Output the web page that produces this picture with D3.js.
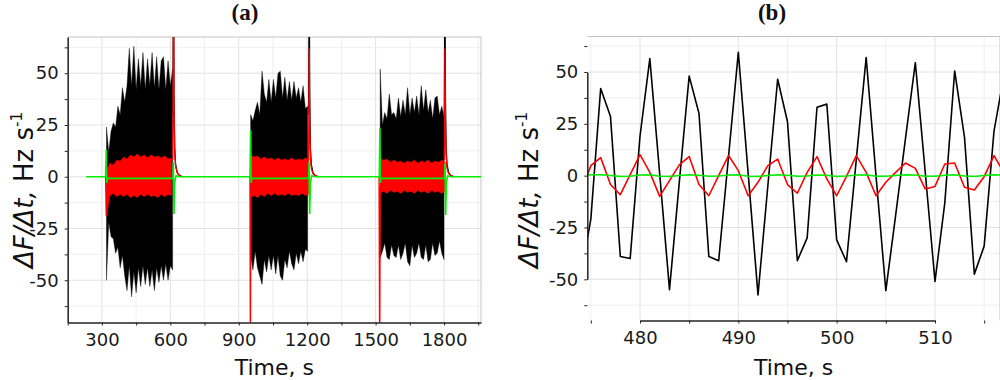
<!DOCTYPE html>
<html>
<head>
<meta charset="utf-8">
<script src="https://cdn.jsdelivr.net/npm/d3@7"></script>
<style>
  body { margin: 0; background: #fff; }
  svg { display: block; background: #fff; }
  .tick text { font-family: "DejaVu Sans", Verdana, sans-serif; font-size: 18px; fill: #1a1a1a; }
  .axis path, .axis line { stroke: #222; }
  .axis path { stroke-width: 1.5; }
  .label { font-family: "DejaVu Sans", Verdana, sans-serif; fill: #111; }
  .title { font-family: "Liberation Serif", "Times New Roman", serif; font-weight: bold; font-size: 23px; fill: #111; }
</style>
</head>
<body>
<div id="chart"></div>
<script>
// ---------- shared value axis ----------
const valueTicks = [-62.5, -50, -37.5, -25, -12.5, 0, 12.5, 25, 37.5, 50, 62.5];
const valueLabels = [-50, -25, 0, 25, 50];

// ---------- panel (a): whole record ----------
const overviewTicks = [150, 300, 450, 600, 750, 900, 1050, 1200, 1350, 1500, 1650, 1800, 1950];
const overviewLabels = [300, 600, 900, 1200, 1500, 1800];

// black signal envelope, sampled every 10 s from the start of each stimulation block
const segStart = [320, 952, 1520];
const segStep = 10;
const blackHi = [
    [24, 12, 22, 26, 24, 34, 30, 43, 36, 44, 62, 44, 63, 42, 57, 44, 60, 42, 57, 44, 60, 43, 58, 42, 56, 58, 42, 56, 44, 52],
    [30, 27, 32, 36, 30, 51, 40, 36, 47, 36, 47, 38, 50, 51, 38, 48, 37, 46, 37, 46, 38, 43, 36, 44, 33, 34],
    [52, 25, 31, 28, 40, 30, 31, 28, 38, 29, 37, 30, 43, 30, 38, 31, 39, 30, 44, 32, 42, 31, 37, 28, 38, 39, 30, 34, 29]
];
const blackLo = [
    [-50, -22, -29, -30, -37, -34, -44, -38, -48, -55, -43, -58, -46, -56, -44, -53, -43, -52, -44, -53, -45, -55, -44, -51, -43, -50, -42, -50, -43, -45],
    [-38, -45, -36, -44, -48, -52, -40, -46, -38, -45, -38, -47, -38, -48, -50, -40, -44, -36, -42, -45, -37, -42, -36, -41, -35, -36],
    [-39, -36, -32, -39, -40, -33, -38, -39, -33, -40, -37, -32, -41, -43, -33, -39, -37, -32, -39, -40, -33, -41, -40, -32, -38, -37, -31, -37, -40]
];

// red signal envelope, sampled every 15 s
const redStep = 15;
const redHi = [
    [3, 6.5, 5.5, 8, 7.5, 9.5, 8.5, 10.5, 9.5, 11, 9.5, 10.5, 9, 10.5, 9.5, 10, 9, 10, 8.5, 9],
    [10.5, 9.5, 10, 8.5, 9.5, 8.5, 9, 8, 9, 8, 8.5, 8, 9, 8, 8.5, 8, 9, 8.5],
    [9, 8, 8.5, 7, 8, 7, 7.5, 6.5, 7.5, 7, 8, 6.5, 7.5, 7, 8, 6.5, 7.5, 7, 8, 7]
];
const redLo = [
    [-19, -9, -8, -9.5, -8.5, -9.5, -8.5, -10, -9, -10, -8.5, -9.5, -8.5, -9.5, -9, -10, -8.5, -9.5, -8.5, -9],
    [-10, -9, -10, -8.5, -9.5, -8, -9, -8, -9, -8.5, -9, -8, -9, -8.5, -9, -8, -9, -8.5],
    [-8, -7, -8, -6.5, -7.5, -7, -8, -6.5, -7.5, -7, -8, -6.5, -7.5, -7, -8, -6.5, -7.5, -7, -8, -7]
];

// switching transients at the edges of each block, [time, value]
const blackEdges = [
    [[611, 30], [614, 95], [616, 40], [619, 14], [623, 6], [630, 2], [640, 0.5], [655, 0]],
    [[1206, 30], [1209, 95], [1211, 40], [1214, 14], [1218, 6], [1225, 2], [1235, 0.5], [1250, 0]],
    [[1801, 30], [1804, 95], [1806, 40], [1809, 14], [1813, 6], [1820, 2], [1830, 0.5], [1845, 0]]
];
const redEdges = [
    [[316, 0], [319, -19], [322, -5]],
    [[611, 8], [614, 95], [616, 35], [619, 12], [623, 5], [630, 2], [640, 0.5], [655, 0]],
    [[949, 0], [951, -95], [953, -5]],
    [[1206, 8], [1209, 62], [1211, 25], [1214, 10], [1218, 4], [1225, 1.5], [1235, 0.5], [1250, 0]],
    [[1515, 0], [1518, -95], [1520, -5]],
    [[1801, 8], [1804, 62], [1806, 25], [1809, 10], [1813, 4], [1820, 1.5], [1830, 0.5], [1845, 0]]
];
const greenA = [
    [231, 0], [316, 0], [319, 13], [321, -3], [324, -0.8], [611, -0.8], [613, 7], [616, -18], [619, -3], [625, 0.5], [640, 0],
    [949, 0], [952, 22.5], [954, -3], [957, -0.8], [1206, -0.8], [1208, 7], [1211, -18], [1214, -3], [1220, 0.5], [1235, 0],
    [1516, 0], [1519, 23.4], [1521, -3], [1524, -0.8], [1802, -0.8], [1804, 6.5], [1807, -18.5], [1810, -3], [1816, 0.5], [1830, 0],
    [1965, 0]
];

// ---------- panel (b): zoom on 474-517 s, one sample per second ----------
const detailTicks = [475, 480, 485, 490, 495, 500, 505, 510, 515];
const detailLabels = [480, 490, 500, 510];
const detailStart = 474;
const blackB = [-48, -21, 42, 28.5, -39, -40, 19, 56.5, 1, -55, -3, 48, 30, -39, -41, 9, 59.5, 1, -57.5, -5, 46.5, 26,
    -41, -30, 33, 34.5, -31, -41.5, 8, 57, 0, -55.5, -19, 18, 54.5, 2, -51, -13, 50.5, 18.5, -47.5, -34, 21.5, 48];
const redB = [-8, 4.8, 8.7, -4.3, -9.2, 0.5, 10.1, 1.6, -10, -2.4, 5.2, 9.2, -4.3, -9.7, 0, 9.7, 2.4, -9.7, -3.2, 4.8, 8, -4.3,
    -8.5, 1.6, 9.2, -1.6, -9.7, -0.3, 9.7, 1.6, -9.7, -3.2, 1.6, 6.1, 3.5, -6.4, -5.2, 5.6, 6.1, -5.6, -6.9, -0.5, 9.7, 1.5];
const greenB = [0.2, 0.4, 0.4, 0.1, -0.4, -0.3, 0.3, 0.4, -0.3, -0.4, 0.1, 0.4, 0.2, -0.3, -0.2, 0.3, 0.4, -0.3, -0.4, 0.1, 0.4, 0.2,
    -0.3, -0.2, 0.3, 0.2, -0.4, -0.2, 0.3, 0.4, -0.3, -0.3, 0.1, 0.4, 0.3, -0.3, -0.3, 0.2, 0.4, -0.2, -0.4, 0.1, 0.4, 0.2];

const colors = { black: '#000000', red: '#ff0000', green: '#00ee00' };

const width = 1000;
const height = 380;

const svg = d3.select("#chart")
    .append("svg")
    .attr("width", width)
    .attr("height", height);

// draws grid, frame and both axes for one panel and returns a clipped group for the data
function drawPanel(p) {
    const g = svg.append("g");

    g.append("clipPath").attr("id", p.id)
        .append("rect")
        .attr("x", p.left).attr("y", p.top)
        .attr("width", p.right - p.left).attr("height", p.bottom - p.top);

    const grid = g.append("g");
    p.xTicks.forEach(t => {
        grid.append("line")
            .attr("x1", p.x(t)).attr("x2", p.x(t))
            .attr("y1", p.top).attr("y2", p.bottom)
            .attr("stroke", p.xLabels.includes(t) ? "#e2e2e2" : "#efefef");
    });
    valueTicks.forEach(v => {
        grid.append("line")
            .attr("x1", p.left).attr("x2", p.right)
            .attr("y1", p.y(v)).attr("y2", p.y(v))
            .attr("stroke", valueLabels.includes(v) ? "#e2e2e2" : "#efefef");
    });

    // light frame on top and right
    g.append("path")
        .attr("d", `M${p.left},${p.top}H${p.right}V${p.bottom}`)
        .attr("fill", "none")
        .attr("stroke", "#c4c4c4");

    const plot = g.append("g").attr("clip-path", `url(#${p.id})`);

    g.append("g")
        .attr("class", "axis")
        .attr("transform", `translate(0,${p.bottom})`)
        .call(d3.axisBottom(p.x)
            .tickValues(p.xTicks)
            .tickSize(3)
            .tickSizeOuter(0)
            .tickPadding(8)
            .tickFormat(d => p.xLabels.includes(d) ? String(d) : ""));

    g.append("g")
        .attr("class", "axis")
        .attr("transform", `translate(${p.left},0)`)
        .call(d3.axisLeft(p.y)
            .tickValues(valueTicks)
            .tickSize(3)
            .tickSizeOuter(0)
            .tickPadding(6)
            .tickFormat(d => valueLabels.includes(d) ? String(d) : ""));

    // x title
    g.append("text")
        .attr("class", "label")
        .attr("x", (p.left + p.right) / 2)
        .attr("y", 375)
        .attr("text-anchor", "middle")
        .attr("font-size", 22)
        .text("Time, s");

    // y title
    const yt = g.append("text")
        .attr("class", "label")
        .attr("transform", `translate(${p.yTitleX},${p.yTitleY}) rotate(-90)`)
        .attr("text-anchor", "middle")
        .attr("font-size", 26);
    yt.append("tspan").attr("font-style", "italic").text("ΔF/Δt,");
    yt.append("tspan").text(" Hz s");
    yt.append("tspan").attr("font-size", 15).attr("dy", -11).text("-1");

    // panel letter
    svg.append("text")
        .attr("class", "title")
        .attr("x", p.titleX)
        .attr("y", 20)
        .attr("text-anchor", "middle")
        .text(p.title);

    return plot;
}

// ---------- panel (a) ----------
const xA = d3.scaleLinear().domain([150, 1962]).range([67.7, 481]);
const yA = d3.scaleLinear().domain([-70.4, 67.5]).range([322.5, 37]);

const plotA = drawPanel({
    id: "clipA", left: 67.7, right: 481, top: 37, bottom: 322.5,
    x: xA, y: yA, xTicks: overviewTicks, xLabels: overviewLabels,
    yTitleX: 33, yTitleY: 190, titleX: 245, title: "(a)"
});

const lineA = d3.line().x(d => xA(d[0])).y(d => yA(d[1]));

segStart.forEach((t0, k) => {
    const pts = blackHi[k].map((hi, i) => ({ t: t0 + i * segStep, hi: hi, lo: blackLo[k][i] }));
    plotA.append("path")
        .datum(pts)
        .attr("d", d3.area().x(d => xA(d.t)).y0(d => yA(d.lo)).y1(d => yA(d.hi)))
        .attr("fill", colors.black)
        .attr("stroke", colors.black)
        .attr("stroke-width", 0.4);
});

blackEdges.forEach(e => {
    plotA.append("path").datum(e).attr("d", lineA)
        .attr("fill", "none").attr("stroke", colors.black).attr("stroke-width", 1.3);
});

segStart.forEach((t0, k) => {
    const pts = redHi[k].map((hi, i) => ({ t: t0 + i * redStep, hi: hi, lo: redLo[k][i] }));
    plotA.append("path")
        .datum(pts)
        .attr("d", d3.area().x(d => xA(d.t)).y0(d => yA(d.lo)).y1(d => yA(d.hi)))
        .attr("fill", colors.red)
        .attr("stroke", colors.red)
        .attr("stroke-width", 0.6);
});

redEdges.forEach(e => {
    plotA.append("path").datum(e).attr("d", lineA)
        .attr("fill", "none").attr("stroke", colors.red).attr("stroke-width", 1.3);
});

plotA.append("path").datum(greenA).attr("d", lineA)
    .attr("fill", "none").attr("stroke", colors.green).attr("stroke-width", 1.6);

// ---------- panel (b) ----------
const xB = d3.scaleLinear().domain([480, 510]).range([640, 935]);
const yB = d3.scaleLinear().domain([-50, 50]).range([279.3, 72]);

const plotB = drawPanel({
    id: "clipB", left: 587.3, right: 1000, top: 36.5, bottom: 320.5,
    x: xB, y: yB, xTicks: detailTicks, xLabels: detailLabels,
    yTitleX: 538, yTitleY: 190, titleX: 772, title: "(b)"
});

const lineB = d3.line().x((d, i) => xB(detailStart + i)).y(d => yB(d));

[[blackB, colors.black], [redB, colors.red], [greenB, colors.green]].forEach(([vals, c]) => {
    plotB.append("path").datum(vals).attr("d", lineB)
        .attr("fill", "none").attr("stroke", c).attr("stroke-width", 1.6)
        .attr("stroke-linejoin", "round");
});
</script>
</body>
</html>
